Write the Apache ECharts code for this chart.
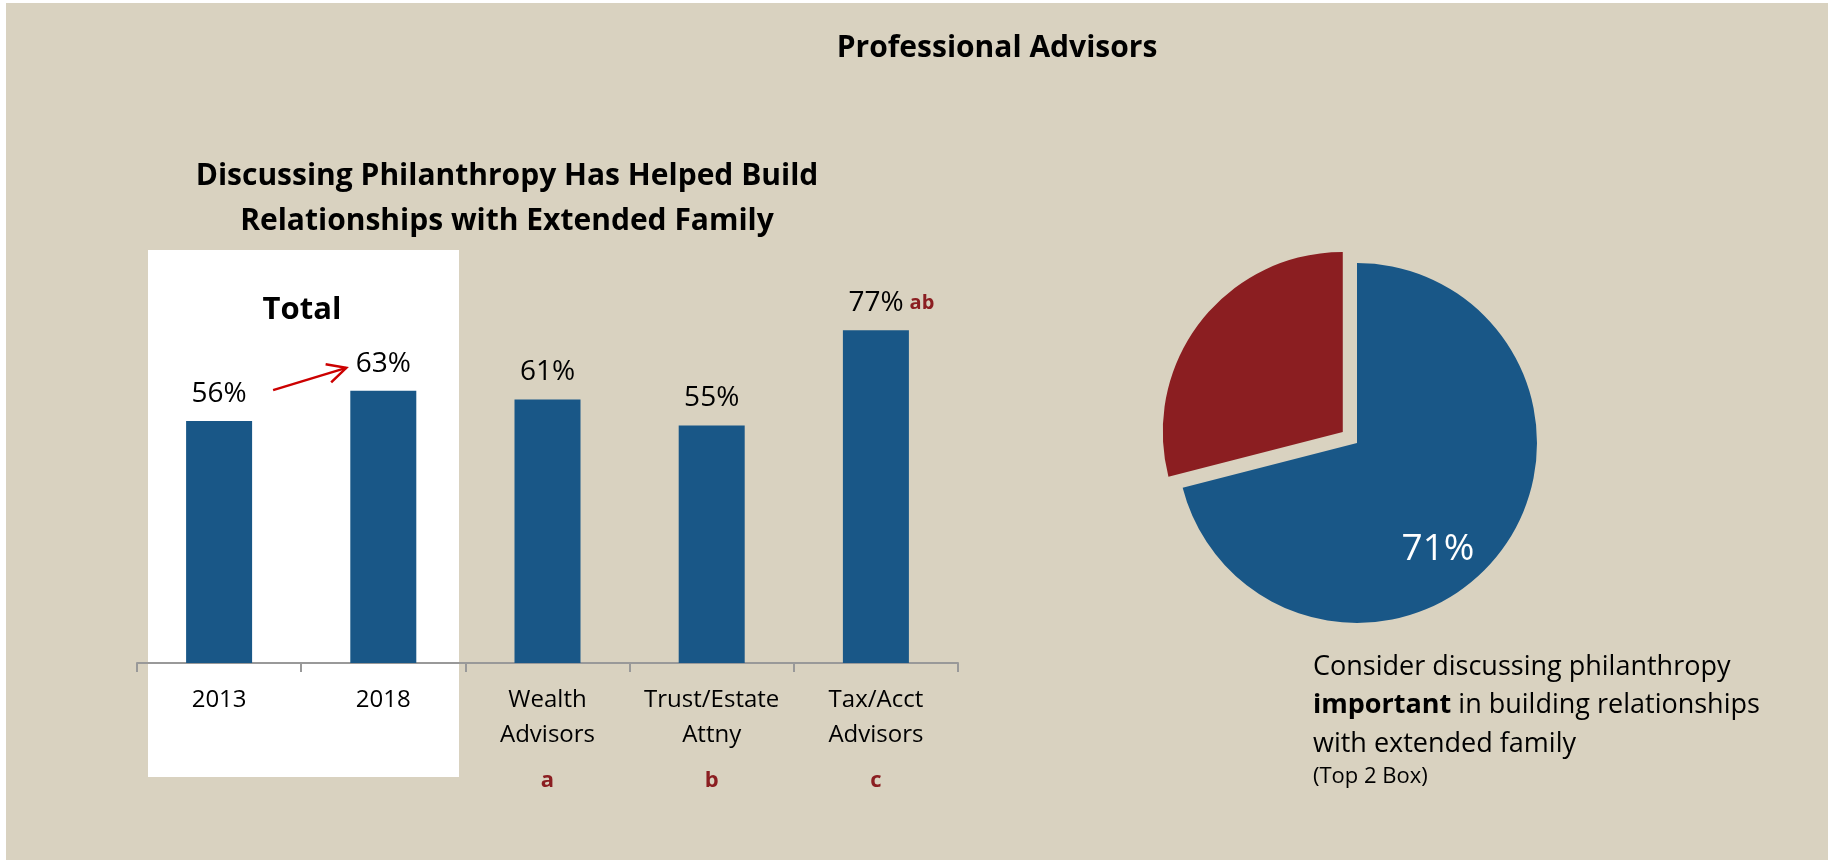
<!DOCTYPE html>
<html>
<head>
<meta charset="utf-8">
<title>Professional Advisors</title>
<script src="https://cdn.jsdelivr.net/npm/echarts@6/dist/echarts.min.js"></script>
<style>
  html, body { margin: 0; padding: 0; background: #ffffff; }
  #chart { width: 1835px; height: 861px; }
</style>
</head>
<body>
<div id="chart"></div>
<script>
// Bar chart: share saying philanthropy talks helped build extended-family relationships
const categories = ['2013', '2018', 'Wealth\nAdvisors', 'Trust/Estate\nAttny', 'Tax/Acct\nAdvisors'];
const barValues = [56, 63, 61, 55, 77];
const groupLetters = ['', '', 'a', 'b', 'c'];
const sigLetters = ['', '', '', '', 'ab'];

// Pie chart: consider discussing philanthropy important (Top 2 Box)
const pieNames = ['Important', 'Not important'];
const pieValues = [71, 29];

const BLUE = '#195787';
const DARK_RED = '#8B1E21';
const BEIGE = '#D9D2C0';
const FONT = 'Open Sans';

const chart = echarts.init(document.getElementById('chart'), null, { renderer: 'canvas' });

const option = {
  animation: false,
  backgroundColor: '#ffffff',
  textStyle: { fontFamily: FONT },
  grid: { left: 137, top: 231, width: 821, height: 432, containLabel: false },
  xAxis: {
    type: 'category',
    data: categories,
    boundaryGap: true,
    axisLine: { show: true, lineStyle: { color: '#999999', width: 2 } },
    axisTick: { show: true, length: 9, alignWithLabel: false, lineStyle: { color: '#999999', width: 2 } },
    axisLabel: {
      interval: 0,
      margin: 20,
      fontSize: 24,
      lineHeight: 35,
      color: '#000000',
      fontFamily: FONT,
      formatter: function (name, idx) {
        const g = groupLetters[idx];
        return g ? name + '\n{grp|' + g + '}' : name;
      },
      rich: {
        grp: { fontSize: 22, fontWeight: 'bold', color: DARK_RED, lineHeight: 55, fontFamily: FONT }
      }
    },
    splitLine: { show: false }
  },
  yAxis: {
    type: 'value',
    min: 0,
    max: 100,
    show: false
  },
  series: [
    {
      type: 'bar',
      data: barValues.map(function (v, i) {
        const item = { value: v };
        if (sigLetters[i]) {
          item.label = { offset: [15.5, 0] };
        }
        return item;
      }),
      barWidth: 66,
      itemStyle: { color: BLUE },
      label: {
        show: true,
        position: 'top',
        distance: 13,
        fontSize: 28,
        color: '#000000',
        fontFamily: FONT,
        formatter: function (p) {
          const s = sigLetters[p.dataIndex];
          return s ? '{v|' + p.value + '%}{s|' + s + '}' : p.value + '%';
        },
        rich: {
          v: { fontSize: 28, color: '#000000', fontFamily: FONT },
          s: { fontSize: 20, fontWeight: 'bold', color: DARK_RED, fontFamily: FONT, padding: [0, 0, 0, 6] }
        }
      },
      emphasis: { disabled: true },
      z: 5
    },
    {
      type: 'pie',
      center: [1357, 443],
      radius: 180,
      startAngle: 90,
      clockwise: true,
      selectedMode: 'single',
      selectedOffset: 18,
      label: { show: false },
      labelLine: { show: false },
      emphasis: { disabled: true },
      data: [
        { name: pieNames[0], value: pieValues[0], itemStyle: { color: BLUE } },
        { name: pieNames[1], value: pieValues[1], itemStyle: { color: DARK_RED }, selected: true }
      ]
    }
  ],
  graphic: {
    elements: [
      { id: 'panel', type: 'rect', z: -100, shape: { x: 6, y: 3, width: 1822, height: 857 }, style: { fill: BEIGE } },
      { id: 'totalBox', type: 'rect', z: -90, shape: { x: 148, y: 250, width: 311, height: 527 }, style: { fill: '#ffffff' } },
      {
        id: 'pageTitle', type: 'text', z: 100, x: 997, y: 48.5,
        style: { text: 'Professional Advisors', fontFamily: FONT, fontSize: 30, fontWeight: 'bold', fill: '#000000', align: 'center', verticalAlign: 'middle' }
      },
      {
        id: 'barTitle1', type: 'text', z: 100, x: 507, y: 176.5,
        style: { text: 'Discussing Philanthropy Has Helped Build', fontFamily: FONT, fontSize: 30, fontWeight: 'bold', fill: '#000000', align: 'center', verticalAlign: 'middle' }
      },
      {
        id: 'barTitle2', type: 'text', z: 100, x: 507, y: 221.5,
        style: { text: 'Relationships with Extended Family', fontFamily: FONT, fontSize: 30, fontWeight: 'bold', fill: '#000000', align: 'center', verticalAlign: 'middle' }
      },
      {
        id: 'totalLabel', type: 'text', z: 100, x: 302, y: 310,
        style: { text: 'Total', fontFamily: FONT, fontSize: 31, fontWeight: 'bold', fill: '#000000', align: 'center', verticalAlign: 'middle' }
      },
      {
        id: 'pieValue', type: 'text', z: 100, x: 1438, y: 549.5,
        style: { text: pieValues[0] + '%', fontFamily: FONT, fontSize: 37, fill: '#ffffff', align: 'center', verticalAlign: 'middle' }
      },
      {
        id: 'pieNote', type: 'text', z: 100, x: 1313, y: 648,
        style: {
          text: 'Consider discussing philanthropy\n{b|important} in building relationships\nwith extended family\n{s|(Top 2 Box)}',
          fontFamily: FONT, fontSize: 27, lineHeight: 38.5, fill: '#000000', align: 'left', verticalAlign: 'top',
          rich: {
            b: { fontFamily: FONT, fontSize: 27, fontWeight: 'bold', lineHeight: 38.5, fill: '#000000' },
            s: { fontFamily: FONT, fontSize: 22, lineHeight: 26, fill: '#000000' }
          }
        }
      }
    ]
  }
};

chart.setOption(option);

// Red arrow from the 2013 value label toward the 2018 value label
const p0 = chart.convertToPixel({ seriesIndex: 0 }, [0, barValues[0]]);
const p1 = chart.convertToPixel({ seriesIndex: 0 }, [1, barValues[1]]);
const start = [p0[0] + 54, p0[1] - 31];
const tip = [p1[0] - 37, p1[1] - 23];
const dx = tip[0] - start[0], dy = tip[1] - start[1];
const len = Math.sqrt(dx * dx + dy * dy);
const ux = -dx / len, uy = -dy / len;
const headLen = 21, headAng = 27 * Math.PI / 180;
function rot(x, y, a) { return [x * Math.cos(a) - y * Math.sin(a), x * Math.sin(a) + y * Math.cos(a)]; }
const h1 = rot(ux, uy, headAng), h2 = rot(ux, uy, -headAng);

chart.setOption({
  graphic: {
    elements: [
      {
        id: 'arrowShaft', type: 'line', z: 100,
        shape: { x1: start[0], y1: start[1], x2: tip[0], y2: tip[1] },
        style: { stroke: '#CC0000', lineWidth: 2.5 }
      },
      {
        id: 'arrowHead', type: 'polyline', z: 100,
        shape: { points: [[tip[0] + h1[0] * headLen, tip[1] + h1[1] * headLen], tip, [tip[0] + h2[0] * headLen, tip[1] + h2[1] * headLen]] },
        style: { stroke: '#CC0000', lineWidth: 2.5, fill: null, lineJoin: 'miter' }
      }
    ]
  }
});
</script>
</body>
</html>
